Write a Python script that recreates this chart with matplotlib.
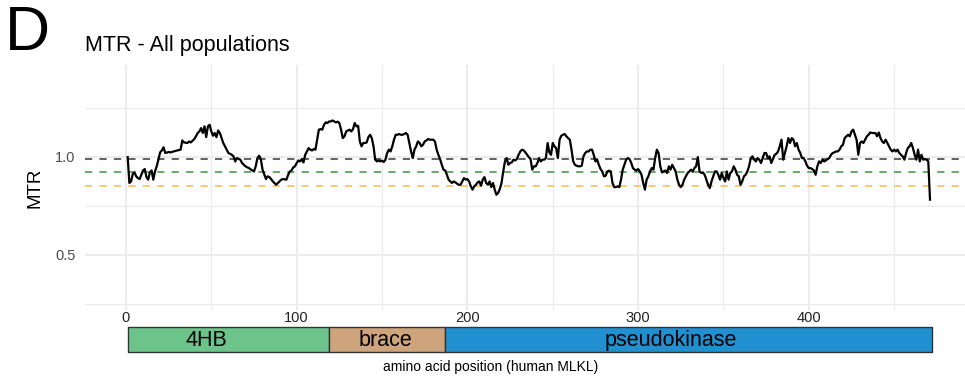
import matplotlib.pyplot as plt
from matplotlib.ticker import MultipleLocator

# MTR values, by residue position
position = [
    1, 2, 3, 4, 5, 6, 7, 8, 10, 11, 12, 13, 14, 15, 16, 17, 18, 19, 20, 21, 22, 23, 25, 26, 28, 30, 32, 33, 34,
    36, 37, 38, 40, 41, 42, 43, 44, 45, 46, 47, 48, 49, 50, 51, 52, 53, 54, 55, 56, 57, 59, 60, 62, 63, 64, 65,
    67, 68, 70, 72, 74, 75, 76, 77, 78, 79, 80, 82, 83, 84, 85, 86, 88, 89, 91,
    92, 94, 95, 96, 97, 98, 99, 100, 101, 102, 103, 104, 105, 106, 107, 108, 109, 110, 111, 112, 113, 114, 115,
    116, 117, 118, 119, 120, 121, 122, 123, 124, 125, 126, 127, 128, 129, 130, 131, 132, 133, 134, 135, 136,
    137, 138, 139, 140, 141, 142, 143, 144, 145, 146, 147, 148, 149, 150, 151, 152, 153, 154, 155, 156, 157,
    158, 159, 160, 161, 162, 163, 164, 165, 166, 167, 168, 169, 170, 171, 172, 173, 174, 175, 176, 177, 178,
    179, 180, 181, 182, 183, 184, 185, 186, 187, 188, 189, 190, 191, 192, 193, 194, 195, 196, 197, 198, 199,
    200, 201, 202,
    203, 204, 205, 206, 207, 208, 209, 210, 211, 212, 213, 214, 215, 216, 217, 218, 219, 220, 221, 222, 223,
    224, 225, 226, 227, 228, 229, 230, 231, 232, 233, 234, 235, 236, 237, 238, 239, 240, 241, 242, 243, 244,
    245, 246, 247, 248, 249, 250, 251, 252, 253, 254, 255, 256, 257, 258, 259, 260, 261, 262, 263, 264, 265,
    266, 267, 268, 269, 270, 271, 272, 273, 274, 275, 276, 277, 278, 279, 280, 281, 282, 283, 284, 285, 286,
    287, 288, 289, 290, 291, 292, 293, 294, 295, 296, 297, 298, 299, 300, 301, 302, 303, 304, 305, 306, 307,
    308, 309, 310, 311, 312, 313,
    314, 315, 316, 317, 318, 319, 320, 321, 322, 323, 324, 325, 326, 327, 328, 329, 330, 331, 332, 333, 334,
    335, 336, 337, 338, 339, 340, 341, 342, 343, 344, 345, 346, 347, 348, 349, 350, 351, 352, 353, 354, 355,
    356, 357, 358, 359, 360, 361, 362, 363, 364, 365, 366, 367, 368, 369, 370, 371, 372, 373, 374, 375, 376,
    377, 378, 379, 380, 381, 382, 383, 384, 385, 386, 387, 388, 389, 390, 391, 392, 393, 394, 395, 396, 397,
    398, 399, 400, 401, 402, 403, 404, 405, 406, 407, 408, 409, 410, 411, 412, 413, 414, 415, 416, 417, 418,
    419, 420, 421, 422, 423, 424,
    425, 426, 427, 428, 429, 430, 431, 432, 433, 434, 435, 436, 437, 438, 439, 440, 441, 442, 443, 444, 445,
    446, 447, 448, 449, 450, 451, 452, 453, 454, 455, 456, 457, 458, 459, 460, 461, 462, 463, 464, 465, 466,
    467, 468, 469, 470, 471,
]
mtr = [
    0.998, 0.866, 0.874, 0.913, 0.920, 0.900, 0.891, 0.886, 0.930, 0.937, 0.896, 0.883, 0.920, 0.930, 0.883,
    0.925, 0.951, 0.985, 1.022, 1.032, 1.048, 1.019, 1.024, 1.022, 1.027, 1.032, 1.036, 1.083, 1.073, 1.070,
    1.078, 1.073, 1.090, 1.104, 1.121, 1.129, 1.146, 1.121, 1.155, 1.100, 1.155, 1.163, 1.129, 1.107, 1.121,
    1.100, 1.134, 1.121, 1.095, 1.070, 1.036, 1.019, 1.010, 1.002, 0.976, 0.993, 0.985, 0.968, 0.951, 0.942,
    0.930, 0.925, 0.951, 0.993, 1.005, 0.988, 0.934, 0.886, 0.900, 0.896, 0.886, 0.874, 0.857, 0.866, 0.883,
    0.886, 0.883, 0.908, 0.925, 0.930, 0.946, 0.951, 0.968, 0.981, 0.976, 0.988, 0.971, 1.010, 1.027, 1.044,
    1.036, 1.032, 1.039, 1.036, 1.087, 1.138, 1.141, 1.138, 1.163, 1.175, 1.172, 1.180, 1.180, 1.185, 1.180,
    1.175, 1.179, 1.172, 1.138, 1.095, 1.104, 1.129, 1.134, 1.138, 1.129, 1.141, 1.172, 1.155, 1.158, 1.078,
    1.053, 1.070, 1.070, 1.073, 1.100, 1.112, 1.095, 1.053, 0.985, 0.976, 0.981, 0.976, 0.980, 0.973, 0.985,
    1.019, 1.036, 1.027, 1.053, 1.087, 1.112, 1.112, 1.116, 1.112, 1.112, 1.116, 1.121, 1.112, 1.070, 1.027,
    0.993, 1.036, 1.053, 1.078, 1.070, 1.053, 1.061, 1.078, 1.083, 1.090, 1.087, 1.087, 1.087, 1.078, 1.036,
    1.010, 0.988, 0.959, 0.934, 0.930, 0.908, 0.883, 0.874, 0.866, 0.874, 0.869, 0.862, 0.857, 0.857, 0.874,
    0.891, 0.883, 0.886, 0.874, 0.849,
    0.832, 0.849, 0.857, 0.869, 0.874, 0.852, 0.883, 0.896, 0.866, 0.857, 0.874, 0.845, 0.866, 0.832, 0.806,
    0.815, 0.835, 0.866, 0.925, 0.976, 0.993, 0.959, 0.968, 0.971, 0.985, 0.981, 0.988, 1.010, 1.027, 1.036,
    1.032, 1.022, 1.010, 0.998, 0.988, 0.934, 0.951, 0.951, 0.968, 0.993, 0.976, 0.985, 0.985, 0.993, 1.070,
    1.022, 1.010, 1.070, 1.053, 1.044, 0.993, 1.087, 1.107, 1.112, 1.116, 1.104, 1.095, 1.087, 1.036, 0.976,
    0.959, 0.954, 0.951, 0.951, 0.954, 1.002, 1.019, 1.027, 1.027, 1.036, 1.036, 1.010, 0.976, 0.985, 0.959,
    0.937, 0.925, 0.900, 0.903, 0.925, 0.929, 0.925, 0.866, 0.845, 0.845, 0.849, 0.845, 0.883, 0.934, 0.959,
    0.985, 0.993, 0.988, 0.968, 0.942, 0.934, 0.930, 0.937, 0.925, 0.908, 0.866, 0.832, 0.883, 0.900, 0.925,
    0.942, 0.934, 0.993, 1.036, 1.019, 0.951,
    0.920, 0.925, 0.930, 0.917, 0.951, 0.934, 0.959, 0.942, 0.925, 0.883, 0.857, 0.845, 0.857, 0.883, 0.900,
    0.917, 0.925, 0.934, 0.925, 0.942, 0.951, 0.998, 0.925, 0.917, 0.920, 0.908, 0.883, 0.857, 0.840, 0.874,
    0.900, 0.925, 0.925, 0.908, 0.883, 0.917, 0.891, 0.874, 0.925, 0.883, 0.917, 0.925, 0.951, 0.934, 0.908,
    0.900, 0.857, 0.874, 0.900, 0.908, 0.925, 0.951, 0.993, 1.002, 0.985, 0.976, 0.993, 0.985, 0.968, 0.993,
    1.019, 1.019, 0.993, 1.002, 0.968, 0.988, 1.010, 1.015, 1.027, 1.053, 1.087, 0.985, 1.019, 1.053, 1.095,
    1.070, 1.095, 1.087, 1.053, 1.070, 1.036, 1.019, 0.993, 0.993, 0.976, 0.954, 0.942, 0.942, 0.937, 0.930,
    0.908, 0.951, 0.976, 0.968, 0.985, 0.976, 0.981, 0.988, 0.993, 1.010, 1.019, 1.022, 1.027, 1.027, 1.036,
    1.053, 1.061, 1.095, 1.104, 1.112, 1.104,
    1.129, 1.138, 1.112, 1.087, 1.010, 1.070, 1.078, 1.070, 1.087, 1.104, 1.112, 1.124, 1.121, 1.121, 1.121,
    1.104, 1.124, 1.095, 1.078, 1.070, 1.087, 1.070, 1.053, 1.036, 1.027, 1.036, 1.027, 1.036, 1.019, 1.010,
    1.002, 0.985, 1.019, 1.044, 1.053, 1.070, 1.044, 1.010, 0.985, 1.036, 0.976, 1.010, 0.985, 0.988, 0.985,
    0.976, 0.781,
]

# reference lines (dashed)
ref_levels = [0.988, 0.921, 0.852]
ref_colors = ['#555555', '#5aa55a', '#f8c56a']

# protein domains
domain_names = ['4HB', 'brace', 'pseudokinase']
domain_start = [1, 119, 187]
domain_end = [119, 187, 472]
domain_colors = ['#6cc48b', '#cda47c', '#2190d1']
label_x = [47, 152, 319]  # where the domain names sit in the bar

plt.rcParams['font.family'] = ['Liberation Sans', 'DejaVu Sans']

fig = plt.figure(figsize=(9.65, 3.8), dpi=100)
ax = fig.add_axes([85 / 965, 70 / 380, 880 / 965, 245 / 380])

ax.plot(position, mtr, color='black', linewidth=1.6, zorder=3)
for lvl, col in zip(ref_levels, ref_colors):
    ax.axhline(lvl, color=col, linewidth=1.3, linestyle=(0, (4, 4)), zorder=2)

ax.set_xlim(-24, 491.5)
ax.set_ylim(0.218, 1.468)
ax.xaxis.set_major_locator(MultipleLocator(100))
ax.xaxis.set_minor_locator(MultipleLocator(50))
ax.yaxis.set_minor_locator(MultipleLocator(0.25))
ax.set_yticks([0.5, 1.0])
ax.set_yticklabels(['0.5', '1.0'])
ax.grid(which='major', color='#ebebeb', linewidth=1.3)
ax.grid(which='minor', color='#ebebeb', linewidth=0.8)
ax.set_axisbelow(True)
for s in ax.spines.values():
    s.set_visible(False)
ax.tick_params(which='both', length=0)
ax.tick_params(axis='y', labelsize=10.5, labelcolor='#4d4d4d', pad=7)
ax.tick_params(axis='x', labelsize=10.5, labelcolor='#222222', pad=1)
ax.set_ylabel('MTR', fontsize=13.5, labelpad=8)
ax.set_title('MTR - All populations', fontsize=15.5, loc='left', pad=10)

# domain bar underneath
ax2 = fig.add_axes([85 / 965, 28.5 / 380, 880 / 965, 24.5 / 380])
ax2.set_xlim(-24, 491.5)
ax2.set_ylim(0, 1)
for start, end, col in zip(domain_start, domain_end, domain_colors):
    ax2.broken_barh([(start, end - start)], (0, 1), facecolors=col, edgecolors='#333333',
                    linewidth=1.0, clip_on=False)
for name, lx in zip(domain_names, label_x):
    ax2.text(lx, 0.45, name, ha='center', va='center', fontsize=15.5)
ax2.axis('off')

fig.text(491 / 965, 1 - 367 / 380, 'amino acid position (human MLKL)', ha='center', va='center', fontsize=10)
fig.text(5 / 965, 1 - 33 / 380, 'D', ha='left', va='center', fontsize=45)

fig.savefig('out.png', dpi=100)
